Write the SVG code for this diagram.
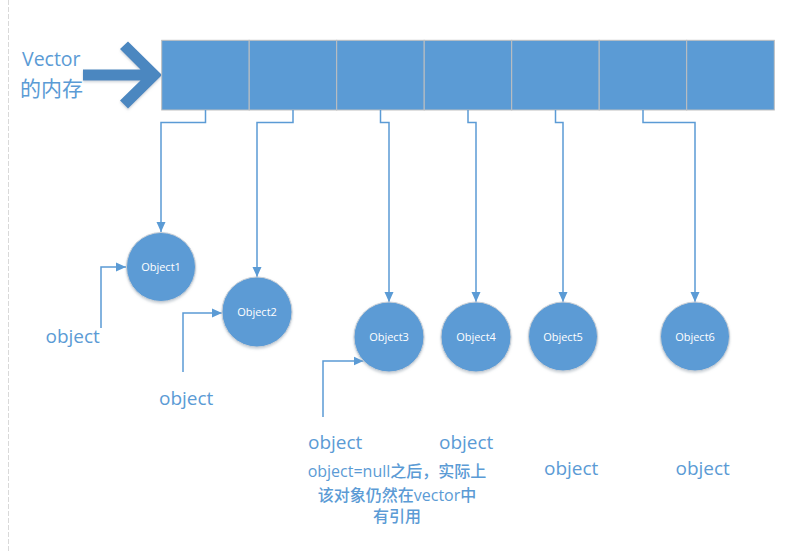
<svg xmlns="http://www.w3.org/2000/svg" width="794" height="553" viewBox="0 0 794 553">
<defs>
<style>
.lbl{font-family:"Open Sans","Noto Sans CJK SC",sans-serif;fill:#5B9BD5;}
.obj{font-family:"Open Sans","Liberation Sans",sans-serif;font-size:19px;font-weight:500;fill:#5B9BD5;}
.node circle{fill:#5B9BD5;stroke:#C9CFD6;stroke-width:1;filter:url(#sh);}
.node text{font-family:"Open Sans","Liberation Sans",sans-serif;font-size:11px;fill:#FFFFFF;text-anchor:middle;}
.cell{fill:#5B9BD5;stroke:#BFBFBF;stroke-width:1;}
.conn path{fill:none;stroke:#5B9BD5;stroke-width:1.5;marker-end:url(#ah);}
</style>
<marker id="ah" markerUnits="userSpaceOnUse" markerWidth="10" markerHeight="10" viewBox="0 0 10 10" refX="10" refY="5" orient="auto">
<path d="M0,0.5 L10,5 L0,9.5 Z" fill="#5B9BD5"/>
</marker>
<filter id="sh" x="-20%" y="-20%" width="140%" height="140%">
<feDropShadow dx="0" dy="1.5" stdDeviation="1.2" flood-color="#9AA6B2" flood-opacity="0.5"/>
</filter>
</defs>
<rect width="794" height="553" fill="#FFFFFF"/>
<line x1="8.5" y1="0" x2="8.5" y2="553" stroke="#D9D9D9" stroke-width="1" stroke-dasharray="5,2"/>

<g id="vector-label">
<text class="lbl" x="22" y="66" font-size="19.5">Vector</text>
<text class="lbl" x="20" y="96" font-size="21">的内存</text>
</g>
<g id="big-arrow">
<polygon points="83,69.5 140.5,69.5 120,49 128,41.5 162,75 128,108.5 120,100.5 140.5,80.5 83,80.5" fill="#4B87C0" filter="url(#sh)"/>
</g>

<g id="vector-memory">
<rect class="cell" x="161.7" y="40.3" width="87.5" height="69.7"/>
<rect class="cell" x="249.2" y="40.3" width="87.5" height="69.7"/>
<rect class="cell" x="336.7" y="40.3" width="87.5" height="69.7"/>
<rect class="cell" x="424.2" y="40.3" width="87.5" height="69.7"/>
<rect class="cell" x="511.7" y="40.3" width="87.5" height="69.7"/>
<rect class="cell" x="599.2" y="40.3" width="87.5" height="69.7"/>
<rect class="cell" x="686.7" y="40.3" width="87.6" height="69.7"/>
</g>

<g id="connectors" class="conn">
<path d="M205.5,110 V122.5 H161 V232"/>
<path d="M293,110 V122.5 H257 V277"/>
<path d="M380.5,110 V122.5 H389 V302"/>
<path d="M468,110 V122.5 H476 V302"/>
<path d="M555.5,110 V122.5 H563 V302"/>
<path d="M643,110 V122.5 H695 V302"/>
<path d="M101,328 V267 H126"/>
<path d="M183,372 V313 H222"/>
<path d="M323,417 V361 H363.5"/>
</g>

<g id="object1" class="node"><circle cx="161" cy="267" r="34.5"/><text x="161" y="271">Object1</text></g>
<g id="object2" class="node"><circle cx="257" cy="312" r="35"/><text x="257" y="316">Object2</text></g>
<g id="object3" class="node"><circle cx="389" cy="337" r="35"/><text x="389" y="341">Object3</text></g>
<g id="object4" class="node"><circle cx="476" cy="337" r="35"/><text x="476" y="341">Object4</text></g>
<g id="object5" class="node"><circle cx="563" cy="336.5" r="34.5"/><text x="563" y="340.5">Object5</text></g>
<g id="object6" class="node"><circle cx="695" cy="336.5" r="34.5"/><text x="695" y="340.5">Object6</text></g>

<g id="refs">
<text class="obj" x="45.5" y="343">object</text>
<text class="obj" x="159" y="405">object</text>
<text class="obj" x="308" y="449">object</text>
<text class="obj" x="439" y="449">object</text>
<text class="obj" x="544" y="475">object</text>
<text class="obj" x="675.5" y="475">object</text>
</g>

<g id="note" class="lbl" font-size="16" font-weight="500" text-anchor="middle">
<text x="397" y="476.5">object=null之后，实际上</text>
<text x="397" y="500.5">该对象仍然在vector中</text>
<text x="397" y="522">有引用</text>
</g>
</svg>
